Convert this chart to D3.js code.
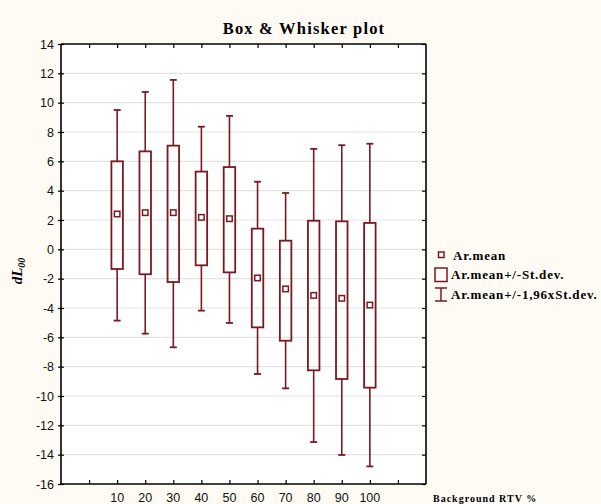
<!DOCTYPE html>
<html>
<head>
<meta charset="utf-8">
<script src="https://cdn.jsdelivr.net/npm/d3@7"></script>
<style>
  body { margin: 0; background: #fdfbf3; }
  svg { display: block; }
</style>
</head>
<body>
<script>
let w = 601;
let h = 504;

// background RTV %
let categories = [10, 20, 30, 40, 50, 60, 70, 80, 90, 100];
let means     = [2.41, 2.5, 2.5, 2.18, 2.09, -1.95, -2.7, -3.14, -3.34, -3.8];
let sdHigh    = [6.0, 6.68, 7.07, 5.3, 5.61, 1.41, 0.59, 1.95, 1.91, 1.8];
let sdLow     = [-1.34, -1.7, -2.23, -1.09, -1.57, -5.32, -6.23, -8.25, -8.84, -9.43];
let ciHigh    = [9.5, 10.73, 11.55, 8.36, 9.1, 4.61, 3.84, 6.85, 7.1, 7.2];
let ciLow     = [-4.86, -5.75, -6.68, -4.18, -5.02, -8.5, -9.48, -13.14, -14.02, -14.8];
let yTicks = d3.range(-16, 15, 2);
let xTicks = d3.range(0, 111, 10);
let legendLabels = ["Ar.mean", "Ar.mean+/-St.dev.", "Ar.mean+/-1,96xSt.dev."];

let dataset = categories.map((c, i) => ({
  cat: c, mean: means[i], sdHi: sdHigh[i], sdLo: sdLow[i], ciHi: ciHigh[i], ciLo: ciLow[i]
}));

let plot = { left: 61, right: 426, top: 44, bottom: 484 };
let col = "#7a1a20";
let serif = "Liberation Serif, Times New Roman, serif";

let xScale = d3.scaleLinear().domain([-10, 120]).range([plot.left, plot.right]);
let yScale = d3.scaleLinear().domain([-16, 14]).range([plot.bottom, plot.top]);

let svg = d3.select("body").append("svg")
  .attr("width", w)
  .attr("height", h);

svg.append("rect").attr("width", w).attr("height", h).attr("fill", "#fdfbf3");

// plot area
svg.append("rect")
  .attr("x", plot.left).attr("y", plot.top)
  .attr("width", plot.right - plot.left).attr("height", plot.bottom - plot.top)
  .attr("fill", "white");

// grid lines
svg.append("g").selectAll("line")
  .data(yTicks.filter(d => d > -16 && d < 14))
  .enter().append("line")
  .attr("x1", plot.left).attr("x2", plot.right)
  .attr("y1", d => yScale(d)).attr("y2", d => yScale(d))
  .attr("stroke", "#e3e3e3").attr("stroke-width", 1.2);

// title
svg.append("text")
  .attr("x", 304).attr("y", 34)
  .attr("text-anchor", "middle")
  .attr("font-family", serif)
  .attr("font-weight", "bold").attr("font-size", "16.5px")
  .attr("letter-spacing", "1.2px")
  .text("Box & Whisker plot");

// axes
let axLeft = svg.append("g").attr("transform", "translate(" + plot.left + ",0)")
  .call(d3.axisLeft(yScale).tickValues(yTicks).tickSize(3).tickPadding(4)
    .tickFormat(d => String(d)));
let axRight = svg.append("g").attr("transform", "translate(" + plot.right + ",0)")
  .call(d3.axisLeft(yScale).tickValues(yTicks).tickSize(4).tickFormat(""));
let axBottom = svg.append("g").attr("transform", "translate(0," + plot.bottom + ")")
  .call(d3.axisTop(xScale).tickValues(xTicks).tickSize(4).tickFormat(""));
let axTop = svg.append("g").attr("transform", "translate(0," + plot.top + ")")
  .call(d3.axisBottom(xScale).tickValues(xTicks).tickSize(4).tickFormat(""));

// left ticks cross the axis
axLeft.selectAll(".tick line").attr("x1", 3);

[axLeft, axRight, axBottom, axTop].forEach(function(g) {
  g.select(".domain").attr("stroke", "#000").attr("stroke-width", 1.6);
  g.selectAll(".tick line").attr("stroke", "#000").attr("stroke-width", 1.2);
});
axLeft.select(".domain").attr("d", "M0," + plot.top + "V" + plot.bottom);
axRight.select(".domain").attr("d", "M0," + plot.top + "V" + plot.bottom);
axBottom.select(".domain").attr("d", "M" + plot.left + ",0H" + plot.right);
axTop.select(".domain").attr("d", "M" + plot.left + ",0H" + plot.right);

axLeft.selectAll("text")
  .attr("font-family", "Liberation Sans, Arial, sans-serif")
  .attr("font-size", "12.5px").attr("fill", "#111");

// x labels (only 10..100)
svg.append("g").selectAll("text")
  .data(categories)
  .enter().append("text")
  .attr("x", d => xScale(d)).attr("y", 502)
  .attr("text-anchor", "middle")
  .attr("font-family", "Liberation Sans, Arial, sans-serif")
  .attr("font-size", "12.5px").attr("fill", "#111")
  .text(d => d);

svg.append("text")
  .attr("x", 433).attr("y", 502)
  .attr("font-family", serif)
  .attr("font-weight", "bold").attr("font-size", "10px")
  .attr("letter-spacing", "1px")
  .text("Background RTV %");

// y label
let yl = svg.append("text")
  .attr("transform", "translate(22,271) rotate(-90)")
  .attr("text-anchor", "middle")
  .attr("font-family", serif)
  .attr("font-weight", "bold").attr("font-style", "italic").attr("font-size", "15px");
yl.append("tspan").text("dL");
yl.append("tspan").attr("font-size", "10px").attr("dy", 3).text("00");

// whiskers
let boxW = 11.5, capW = 7, mk = 5.5;
let g = svg.append("g").selectAll("g")
  .data(dataset)
  .enter().append("g");

g.append("line")
  .attr("x1", d => xScale(d.cat)).attr("x2", d => xScale(d.cat))
  .attr("y1", d => yScale(d.ciHi)).attr("y2", d => yScale(d.sdHi))
  .attr("stroke", col).attr("stroke-width", 1.6);
g.append("line")
  .attr("x1", d => xScale(d.cat)).attr("x2", d => xScale(d.cat))
  .attr("y1", d => yScale(d.sdLo)).attr("y2", d => yScale(d.ciLo))
  .attr("stroke", col).attr("stroke-width", 1.6);
g.append("line")
  .attr("x1", d => xScale(d.cat) - capW / 2).attr("x2", d => xScale(d.cat) + capW / 2)
  .attr("y1", d => yScale(d.ciHi)).attr("y2", d => yScale(d.ciHi))
  .attr("stroke", col).attr("stroke-width", 1.8);
g.append("line")
  .attr("x1", d => xScale(d.cat) - capW / 2).attr("x2", d => xScale(d.cat) + capW / 2)
  .attr("y1", d => yScale(d.ciLo)).attr("y2", d => yScale(d.ciLo))
  .attr("stroke", col).attr("stroke-width", 1.8);

// boxes
g.append("rect")
  .attr("x", d => xScale(d.cat) - boxW / 2)
  .attr("y", d => yScale(d.sdHi))
  .attr("width", boxW)
  .attr("height", d => yScale(d.sdLo) - yScale(d.sdHi))
  .attr("fill", "none").attr("stroke", col).attr("stroke-width", 1.8);

// means
g.append("rect")
  .attr("x", d => xScale(d.cat) - mk / 2)
  .attr("y", d => yScale(d.mean) - mk / 2)
  .attr("width", mk).attr("height", mk)
  .attr("fill", "white").attr("stroke", col).attr("stroke-width", 1.5);

// legend
let lg = svg.append("g");
lg.append("rect").attr("x", 438.5).attr("y", 252).attr("width", mk).attr("height", mk)
  .attr("fill", "white").attr("stroke", col).attr("stroke-width", 1.5);
lg.append("rect").attr("x", 435).attr("y", 268).attr("width", 12).attr("height", 13.5)
  .attr("fill", "none").attr("stroke", col).attr("stroke-width", 1.5);
lg.append("line").attr("x1", 441).attr("x2", 441).attr("y1", 288).attr("y2", 301)
  .attr("stroke", col).attr("stroke-width", 1.5);
lg.append("line").attr("x1", 435).attr("x2", 447).attr("y1", 288).attr("y2", 288)
  .attr("stroke", col).attr("stroke-width", 1.5);
lg.append("line").attr("x1", 435).attr("x2", 447).attr("y1", 301).attr("y2", 301)
  .attr("stroke", col).attr("stroke-width", 1.5);

lg.selectAll("text")
  .data(legendLabels)
  .enter().append("text")
  .attr("x", (d, i) => i === 0 ? 453 : 451)
  .attr("y", (d, i) => [260, 279, 299][i])
  .attr("font-family", serif)
  .attr("font-weight", "bold").attr("font-size", "13px")
  .attr("letter-spacing", "0.8px")
  .text(d => d);
</script>
</body>
</html>
